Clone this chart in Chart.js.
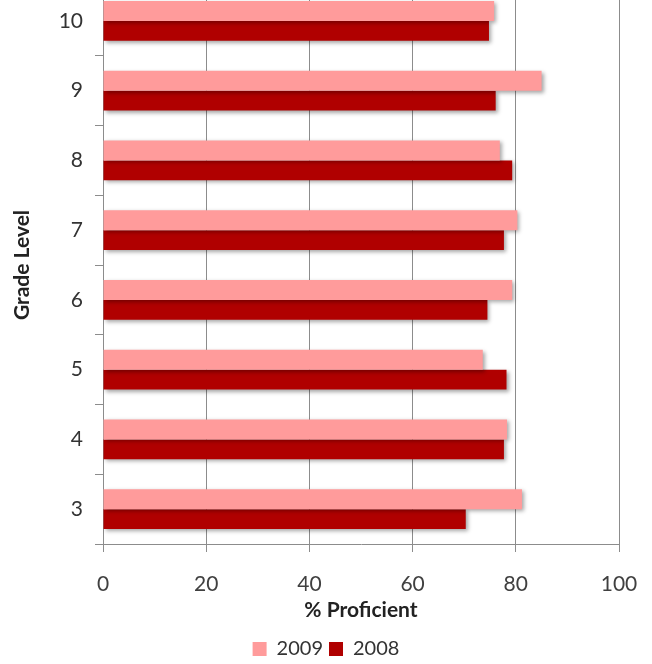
<!DOCTYPE html>
<html>
<head>
<meta charset="utf-8">
<script src="https://cdn.jsdelivr.net/npm/chart.js@4/dist/chart.umd.min.js"></script>
<style>
  html, body { margin: 0; padding: 0; background: #fff; overflow: hidden; }
  #wrap { position: absolute; left: 0; top: -14px; width: 652px; height: 683px; }
</style>
</head>
<body>
<div id="wrap"><canvas id="gradeChart"></canvas></div>
<script>
// grades listed top to bottom
const grades = ['10', '9', '8', '7', '6', '5', '4', '3'];
const pct2009 = [75.8, 85.0, 76.9, 80.3, 79.3, 73.6, 78.3, 81.2];
const pct2008 = [74.8, 76.1, 79.3, 77.7, 74.5, 78.2, 77.7, 70.3];
const xTicks = [0, 20, 40, 60, 80, 100];

const barShadow = {
    id: 'barShadow',
    beforeDatasetsDraw(chart) {
        const c = chart.ctx;
        c.save();
        c.shadowColor = 'rgba(0,0,0,0.35)';
        c.shadowBlur = 4;
        c.shadowOffsetX = 2;
        c.shadowOffsetY = 2;
    },
    afterDatasetsDraw(chart) {
        chart.ctx.restore();
    }
};

const gradeCtx = document.getElementById('gradeChart').getContext('2d');
new Chart(gradeCtx, {
    type: 'bar',
    data: {
        labels: grades,
        datasets: [{
            label: '2009',
            data: pct2009,
            backgroundColor: '#ff9b9b',
            categoryPercentage: 0.57,
            barPercentage: 1.0
        }, {
            label: '2008',
            data: pct2008,
            backgroundColor: '#b00000',
            categoryPercentage: 0.57,
            barPercentage: 1.0
        }]
    },
    plugins: [barShadow],
    options: {
        indexAxis: 'y',
        responsive: true,
        maintainAspectRatio: false,
        animation: false,
        layout: { padding: 0 },
        plugins: {
            legend: {
                position: 'bottom',
                labels: {
                    color: '#333',
                    boxWidth: 14,
                    boxHeight: 14,
                    padding: 6,
                    font: { family: 'Lato', size: 20 }
                }
            },
            tooltip: { enabled: false }
        },
        scales: {
            x: {
                min: 0,
                max: 100,
                afterBuildTicks: (scale) => {
                    scale.ticks = xTicks.map(v => ({ value: v }));
                },
                afterFit: (scale) => {
                    scale.height = 89;
                    scale.paddingRight = 33;
                },
                ticks: {
                    color: '#404040',
                    padding: 20,
                    font: { family: 'Lato', size: 21 }
                },
                grid: {
                    color: '#8c8c8c',
                    lineWidth: 1,
                    tickLength: 8
                },
                border: { color: '#8c8c8c' },
                title: {
                    display: true,
                    text: '% Proficient',
                    color: '#222',
                    padding: { top: 0, bottom: 10 },
                    font: { family: 'Lato', size: 21, weight: 'bold' }
                }
            },
            y: {
                afterFit: (scale) => {
                    scale.width = 103;
                    scale.paddingTop = 0;
                    scale.paddingBottom = 0;
                },
                ticks: {
                    color: '#333',
                    padding: 12,
                    font: { family: 'Lato', size: 21 }
                },
                grid: {
                    offset: true,
                    drawOnChartArea: false,
                    color: '#8c8c8c',
                    tickLength: 8
                },
                border: { color: '#8c8c8c' },
                title: {
                    display: true,
                    text: 'Grade Level',
                    color: '#222',
                    padding: { top: 10, bottom: 0 },
                    font: { family: 'Lato', size: 21, weight: 'bold' }
                }
            }
        }
    }
});
</script>
</body>
</html>
